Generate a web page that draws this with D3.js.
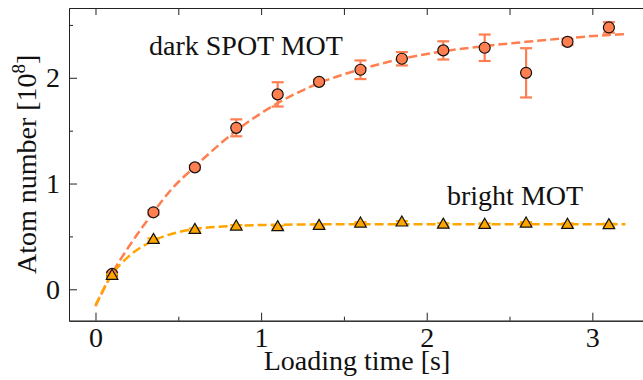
<!DOCTYPE html>
<html>
<head>
<meta charset="utf-8">
<script src="https://cdn.jsdelivr.net/npm/d3@7"></script>
<style>
  body { margin: 0; background: #fff; }
  text { font-family: 'Liberation Serif', 'DejaVu Serif', serif; fill: #111; }
</style>
</head>
<body>
<div class="canvas"></div>
<script>
// data
const loadTime = [0.1, 0.35, 0.6, 0.85, 1.1, 1.35, 1.6, 1.85, 2.1, 2.35, 2.6, 2.85, 3.1]
const darkN = [0.145, 0.728, 1.153, 1.527, 1.843, 1.962, 2.076, 2.18, 2.259, 2.284, 2.047, 2.34, 2.476]
const darkErr = [0.02, 0.02, 0.02, 0.08, 0.115, 0.02, 0.088, 0.063, 0.086, 0.125, 0.233, 0.03, 0.05]
const brightN = [0.126, 0.466, 0.56, 0.592, 0.586, 0.598, 0.62, 0.63, 0.61, 0.608, 0.62, 0.608, 0.605]
const brightErr = [0.015, 0.015, 0.015, 0.015, 0.015, 0.015, 0.015, 0.015, 0.015, 0.015, 0.015, 0.015, 0.015]

// fitted curves, sampled from the figure
const darkFitT = [0, 0.1, 0.2, 0.35, 0.45, 0.6, 0.85, 1.1, 1.35, 1.6, 1.85, 2.1, 2.35, 2.6, 2.85, 3.1, 3.2]
const darkFitN = [-0.16, 0.15, 0.4, 0.73, 0.93, 1.16, 1.5, 1.76, 1.95, 2.08, 2.18, 2.25, 2.3, 2.34, 2.375, 2.405, 2.413]
const brightFitT = [0, 0.1, 0.2, 0.35, 0.5, 0.6, 0.85, 1.1, 1.5, 2, 2.5, 3.2]
const brightFitN = [-0.15, 0.14, 0.31, 0.46, 0.54, 0.57, 0.6, 0.61, 0.615, 0.615, 0.615, 0.615]

const xMajor = [0, 1, 2, 3]
const xMinor = [0.5, 1.5, 2.5]
const yMajor = [0, 1, 2]
const yMinor = [0.5, 1.5, 2.5]

const darkColor = '#FF7F50'
const brightColor = '#FFA500'

// chart dimensions
const dimensions = {
  margin: { top: 8, right: -2, bottom: 59.3, left: 69 },
  chartWidth: 643,
  chartHeight: 380,
}
const graphWidth =
  dimensions.chartWidth - dimensions.margin.left - dimensions.margin.right
const graphHeight =
  dimensions.chartHeight - dimensions.margin.top - dimensions.margin.bottom

const svg = d3
  .select('.canvas')
  .append('svg')
  .attr('width', dimensions.chartWidth)
  .attr('height', dimensions.chartHeight)

const graph = svg
  .append('g')
  .attr('transform', `translate(${dimensions.margin.left}, ${dimensions.margin.top})`)

// scales
const x = d3.scaleLinear().domain([-0.16, 3.318]).range([0, graphWidth])
const y = d3.scaleLinear().domain([-0.297, 2.66]).range([graphHeight, 0])

// axes
const fontSize = 28
const styleAxis = (g) => {
  g.selectAll('path, line').attr('stroke', '#222').attr('stroke-width', 1)
  g.selectAll('text')
    .attr('fill', '#111')
    .style('font-size', `${fontSize}px`)
    .style('font-family', "'Liberation Serif', serif")
}

const xAxisGroup = graph.append('g').attr('transform', `translate(0, ${graphHeight})`)
xAxisGroup.call(d3.axisBottom(x).tickValues(xMajor).tickSizeInner(-8).tickSizeOuter(0).tickPadding(6).tickFormat(d3.format('d')))
xAxisGroup.append('g').call(d3.axisBottom(x).tickValues(xMinor).tickSizeInner(-4).tickSizeOuter(0).tickFormat(''))
xAxisGroup.call(styleAxis)

const xTopGroup = graph.append('g')
xTopGroup.call(d3.axisTop(x).tickValues(xMajor.concat(xMinor)).tickSizeInner(-7).tickSizeOuter(0).tickFormat(''))
xTopGroup.call(styleAxis)

const yAxisGroup = graph.append('g')
yAxisGroup.call(d3.axisLeft(y).tickValues(yMajor).tickSizeInner(-8).tickSizeOuter(0).tickPadding(9).tickFormat(d3.format('d')))
yAxisGroup.append('g').call(d3.axisLeft(y).tickValues(yMinor).tickSizeInner(-4).tickSizeOuter(0).tickFormat(''))
yAxisGroup.call(styleAxis)

// axis titles
svg
  .append('text')
  .attr('x', dimensions.margin.left + graphWidth / 2)
  .attr('y', 370)
  .attr('text-anchor', 'middle')
  .style('font-size', `${fontSize}px`)
  .text('Loading time [s]')

const yTitle = svg
  .append('text')
  .attr('transform', `translate(36, ${dimensions.margin.top + graphHeight / 2}) rotate(-90)`)
  .attr('text-anchor', 'middle')
  .style('font-size', `${fontSize}px`)
yTitle.append('tspan').text('Atom number [10')
yTitle.append('tspan').attr('dy', -11).style('font-size', '19px').text('8')
yTitle.append('tspan').attr('dy', 11).text(']')

// fit lines
const line = d3
  .line()
  .x((d) => x(d[0]))
  .y((d) => y(d[1]))
  .curve(d3.curveMonotoneX)

const plot = graph.append('g')

plot
  .append('path')
  .datum(d3.zip(darkFitT, darkFitN))
  .attr('fill', 'none')
  .attr('stroke', darkColor)
  .attr('stroke-width', 2.5)
  .attr('stroke-dasharray', '9 4')
  .attr('d', line)

plot
  .append('path')
  .datum(d3.zip(brightFitT, brightFitN))
  .attr('fill', 'none')
  .attr('stroke', brightColor)
  .attr('stroke-width', 2.5)
  .attr('stroke-dasharray', '9 4')
  .attr('d', line)

// error bars
const drawErrors = (values, errs, color) => {
  const data = d3.zip(loadTime, values, errs)
  const g = plot.append('g').attr('stroke', color).attr('stroke-width', 2.2)
  g.selectAll('.bar')
    .data(data)
    .enter()
    .append('line')
    .attr('x1', (d) => x(d[0]))
    .attr('x2', (d) => x(d[0]))
    .attr('y1', (d) => y(d[1] - d[2]))
    .attr('y2', (d) => y(d[1] + d[2]))
  ;[-1, 1].forEach((s) => {
    g.selectAll(null)
      .data(data)
      .enter()
      .append('line')
      .attr('x1', (d) => x(d[0]) - 6)
      .attr('x2', (d) => x(d[0]) + 6)
      .attr('y1', (d) => y(d[1] + s * d[2]))
      .attr('y2', (d) => y(d[1] + s * d[2]))
  })
}

drawErrors(darkN, darkErr, darkColor)

plot
  .append('g')
  .selectAll('circle')
  .data(d3.zip(loadTime, darkN))
  .enter()
  .append('circle')
  .attr('cx', (d) => x(d[0]))
  .attr('cy', (d) => y(d[1]))
  .attr('r', 5.5)
  .attr('fill', darkColor)
  .attr('stroke', '#111')
  .attr('stroke-width', 1.2)

drawErrors(brightN, brightErr, brightColor)

plot
  .append('g')
  .selectAll('path')
  .data(d3.zip(loadTime, brightN))
  .enter()
  .append('path')
  .attr('d', d3.symbol(d3.symbolTriangle).size(58))
  .attr('transform', (d) => `translate(${x(d[0])}, ${y(d[1])})`)
  .attr('fill', brightColor)
  .attr('stroke', '#111')
  .attr('stroke-width', 1.2)

// series labels
svg
  .append('text')
  .attr('x', 149)
  .attr('y', 55)
  .style('font-size', `${fontSize}px`)
  .text('dark SPOT MOT')

svg
  .append('text')
  .attr('x', 447)
  .attr('y', 205)
  .style('font-size', `${fontSize}px`)
  .text('bright MOT')
</script>
</body>
</html>
